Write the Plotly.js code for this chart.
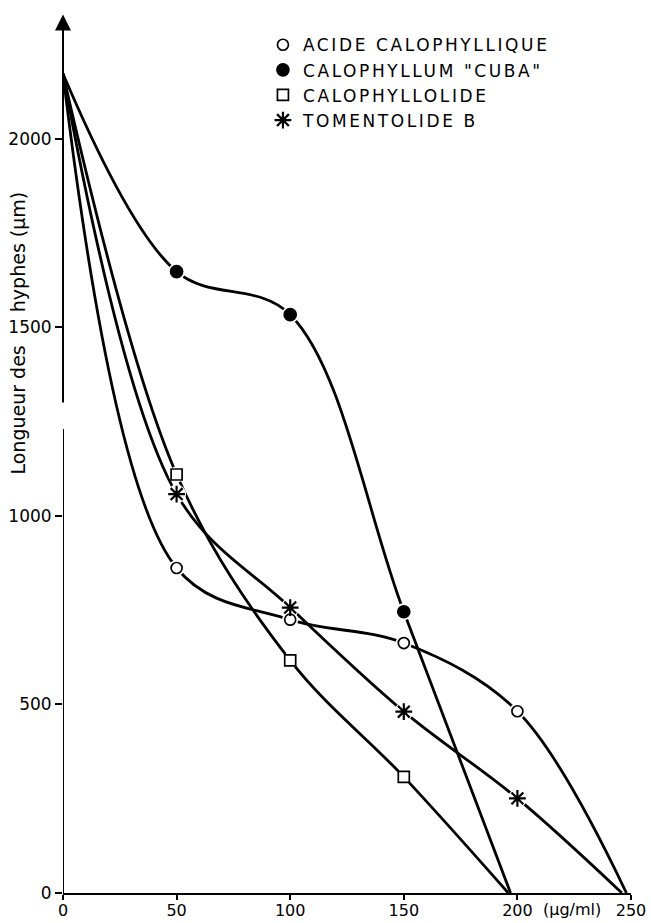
<!DOCTYPE html>
<html>
<head>
<meta charset="utf-8">
<script src="https://cdn.plot.ly/plotly-3.0.1.min.js"></script>
<style>
html,body{margin:0;padding:0;background:#fff;}
#chart{width:651px;height:923px;}
.legendtext{letter-spacing:2.6px;}
</style>
</head>
<body>
<div id="chart"></div>
<script>
// Data (x: µg/ml, y: hyphae length µm)
const seriesNames = ['ACIDE CALOPHYLLIQUE', 'CALOPHYLLUM "CUBA"', 'CALOPHYLLOLIDE', 'TOMENTOLIDE B'];
const acideX = [0, 50, 100, 150, 200, 248];
const acideY = [2173, 862, 725, 663, 482, 0];
const cubaX = [0, 50, 100, 150, 197];
const cubaY = [2173, 1648, 1534, 746, 0];
const calolideX = [0, 50, 100, 150, 196];
const calolideY = [2173, 1110, 617, 308, 0];
const tomentX = [0, 50, 100, 150, 200, 246];
const tomentY = [2173, 1058, 757, 481, 251, 0];

const xTickVals = [0, 50, 100, 150, 200, 250];
const xTickText = ['0', '50', '100', '150', '200', '250'];
const yTickVals = [0, 500, 1000, 1500, 2000];
const yTickText = ['0', '500', '1000', '1500', '2000'];
const xUnit = '(µg/ml)';
const yTitleLower = 'Longueur des';
const yTitleUpper = 'hyphes (µm)';
const yAxisBreak = [1231, 1297];
const yAxisTop = 2330;

const FONT = 'DejaVu Sans, Liberation Sans, sans-serif';
const series = [
  {name: seriesNames[0], x: acideX, y: acideY, symbol: 'circle', fill: '#fff', size: 11},
  {name: seriesNames[1], x: cubaX, y: cubaY, symbol: 'circle', fill: '#000', size: 12},
  {name: seriesNames[2], x: calolideX, y: calolideY, symbol: 'square', fill: '#fff', size: 11},
  {name: seriesNames[3], x: tomentX, y: tomentY, symbol: 'asterisk-open', fill: '#000', size: 14}
];

const traces = [];
// curves
series.forEach(s => traces.push({
  type: 'scatter', mode: 'lines', x: s.x, y: s.y, showlegend: false, hoverinfo: 'skip',
  line: {color: '#000', width: 2.8, shape: 'spline', smoothing: 1}, cliponaxis: false
}));
// white halos making small gaps in the lines around markers
series.forEach(s => traces.push({
  type: 'scatter', mode: 'markers', x: s.x.slice(1, -1), y: s.y.slice(1, -1), showlegend: false, hoverinfo: 'skip',
  marker: {symbol: 'circle', size: s.size + 5, color: '#fff'}, cliponaxis: false
}));
// markers (also legend entries)
series.forEach(s => traces.push({
  type: 'scatter', mode: 'markers', name: s.name, x: s.x.slice(1, -1), y: s.y.slice(1, -1),
  marker: {symbol: s.symbol, size: s.size, color: s.fill,
           line: {color: '#000', width: s.symbol === 'asterisk-open' ? 2.2 : 1.7}},
  cliponaxis: false
}));

const layout = {
  width: 651, height: 923,
  margin: {l: 63, r: 20, t: 10, b: 30},
  paper_bgcolor: '#fff', plot_bgcolor: '#fff',
  font: {family: FONT, size: 17, color: '#000'},
  showlegend: true,
  legend: {x: 0.352, y: 0.9805, xanchor: 'left', yanchor: 'top', bgcolor: 'rgba(0,0,0,0)',
           font: {family: FONT, size: 17, color: '#000'}, tracegroupgap: 0, itemwidth: 30},
  xaxis: {range: [0, 250], tickvals: xTickVals, ticktext: xTickText, showgrid: false, zeroline: false,
          showline: true, linecolor: '#000', linewidth: 2, ticks: 'outside', ticklen: 5, tickwidth: 2,
          tickcolor: '#000', tickfont: {family: FONT, size: 16, color: '#000'}, ticklabelstandoff: -3,
          fixedrange: true},
  yaxis: {range: [0, 2342], tickvals: yTickVals, ticktext: yTickText, showgrid: false, zeroline: false,
          showline: false, ticks: 'outside', ticklen: 7, tickwidth: 2, tickcolor: '#000',
          tickfont: {family: FONT, size: 17, color: '#000'}, fixedrange: true},
  shapes: [
    {type: 'line', xref: 'x', yref: 'y', x0: 0, x1: 0, y0: 0, y1: yAxisBreak[0], line: {color: '#000', width: 2}}
  ],
  annotations: [
    {xref: 'x', yref: 'y', axref: 'x', ayref: 'y', x: 0, y: yAxisTop, ax: 0, ay: yAxisBreak[1], text: '',
     showarrow: true, arrowhead: 2, arrowsize: 1.6, arrowwidth: 2, arrowcolor: '#000', standoff: 0},
    {xref: 'x', yref: 'paper', x: 224, y: 0, yanchor: 'top', yshift: -5, text: xUnit, showarrow: false,
     font: {family: FONT, size: 16, color: '#000'}},
    {xref: 'paper', yref: 'y', x: -0.079, xanchor: 'center', y: 1280, yanchor: 'middle', text: yTitleLower,
     textangle: -90, showarrow: false, font: {family: FONT, size: 19, color: '#000'}},
    {xref: 'paper', yref: 'y', x: -0.079, xanchor: 'center', y: 1700, yanchor: 'middle', text: yTitleUpper,
     textangle: -90, showarrow: false, font: {family: FONT, size: 19, color: '#000'}}
  ]
};

Plotly.newPlot('chart', traces, layout, {displayModeBar: false, staticPlot: true});
</script>
</body>
</html>
